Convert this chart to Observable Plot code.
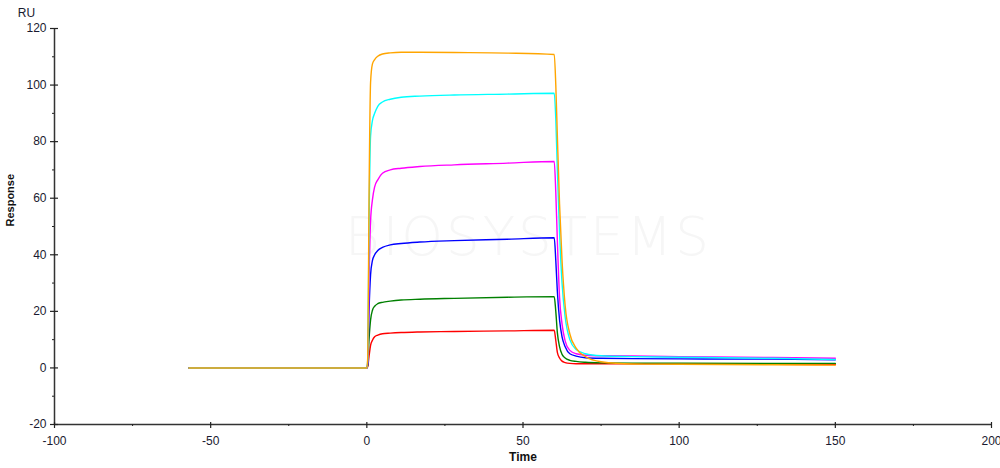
<!DOCTYPE html>
<html><head><meta charset="utf-8">
<script src="https://cdn.jsdelivr.net/npm/d3@7"></script>
<script src="https://cdn.jsdelivr.net/npm/@observablehq/plot@0.6"></script>
<style>
body{margin:0;background:#fff;font-family:"Liberation Sans",Arial,sans-serif;}
#wrap{position:relative;width:1000px;height:468px;overflow:hidden;}
#wm{position:absolute;left:345px;top:206px;font-size:53px;color:#f6f6f6;letter-spacing:3px;font-family:"DejaVu Sans",sans-serif;font-weight:200;}
#chart{position:absolute;left:0;top:0;}
svg{display:block;background:transparent!important;}
</style>
</head><body>
<div id="wrap"><div id="wm">BIOSYSTEMS</div><div id="chart"></div></div>
<script>
// Time (s)
const time = [-57, -30, 0, 0.3, 0.7, 1.2, 1.8, 2.5, 3.5, 5, 7.5, 11, 17, 28, 45, 60, 60.5, 61, 61.7, 62.5, 63.5, 65, 67, 70, 75, 85, 100, 130, 150];
// Responses (RU), one array per concentration
const redRU     = [0, 0, 0, 0.5, 4, 8, 9.8, 11, 11.6, 12.1, 12.3, 12.5, 12.7, 12.9, 13.1, 13.3, 9.7, 5.5, 3.5, 2.4, 1.9, 1.6, 1.5, 1.5, 1.5, 1.5, 1.4, 1.3, 1.2];
const greenRU   = [0, 0, 0, 1, 10, 17, 20.4, 21.8, 22.7, 23.2, 23.6, 24, 24.3, 24.6, 25, 25.2, 20, 12.5, 7.5, 4.8, 3.5, 2.7, 2.3, 2.0, 1.8, 1.7, 1.7, 1.6, 1.6];
const blueRU    = [0, 0, 0, 1.5, 20, 33, 38, 40, 41.5, 42.6, 43.5, 44, 44.5, 45, 45.5, 46, 38, 27, 17, 11, 7.5, 5, 4.2, 3.6, 3.4, 3.3, 3.2, 3.1, 2.9];
const magentaRU = [0, 0, 0, 2, 30, 52, 59.5, 64, 66.5, 68.8, 70, 70.6, 71.2, 71.8, 72.4, 73, 62, 45, 25, 15.5, 9.5, 6.2, 5, 4.5, 4.3, 4.2, 4.0, 3.7, 3.4];
const cyanRU    = [0, 0, 0, 3, 50, 82, 87.5, 90, 92.5, 94, 95, 95.7, 96.1, 96.5, 96.8, 97.1, 88, 70, 48, 30, 18, 10, 6.5, 5, 4.3, 4.0, 3.8, 3.4, 3.0];
const orangeRU  = [0, 0, 0, 4, 60, 101, 107.5, 109, 110.2, 111, 111.4, 111.6, 111.6, 111.5, 111.3, 110.8, 100, 82, 58, 38, 22, 12, 7, 4, 2.2, 1.4, 1.3, 1.1, 1.0];

const seriesNames  = ["red", "green", "blue", "magenta", "cyan", "orange"];
const seriesValues = [redRU, greenRU, blueRU, magentaRU, cyanRU, orangeRU];
const seriesColors = ["#ff2020", "#1e7d1e", "#1a1aff", "#ff20ff", "#20d4d4", "#e8a317"];

const xDomain = [-100, 200];
const yDomain = [-20, 120];
const xTicks = [-100, -50, 0, 50, 100, 150, 200];
const xMinor = [-75, -25, 25, 75, 125, 175];
const yTicks = [-20, 0, 20, 40, 60, 80, 100, 120];
const yMinor = [-10, 10, 30, 50, 70, 90, 110];

const rows = [];
seriesNames.forEach((s, k) => time.forEach((t, i) => rows.push({series: s, t, v: seriesValues[k][i]})));

const ink = "#1a1a30";
const fmt = d => String(d);
const chart = Plot.plot({
  width: 1000, height: 468,
  marginLeft: 54, marginRight: 9, marginTop: 28, marginBottom: 44,
  style: {background: "transparent", fontFamily: "Liberation Sans, Arial, sans-serif"},
  x: {domain: xDomain},
  y: {domain: yDomain},
  color: {domain: seriesNames, range: seriesColors},
  marks: [
    Plot.line(rows, {x: "t", y: "v", z: "series", stroke: "series", strokeWidth: 1.4, curve: "monotone-x"}),
    // axis lines
    Plot.ruleX([xDomain[0]], {stroke: "#333", strokeWidth: 1.5}),
    Plot.ruleY([yDomain[0]], {stroke: "#333", strokeWidth: 1.5}),
    // y ticks crossing the axis
    Plot.ruleY(yTicks, {x1: xDomain[0], x2: xDomain[0], insetLeft: -4, insetRight: -4, stroke: "#222", strokeWidth: 1.2}),
    Plot.ruleY(yMinor, {x1: xDomain[0], x2: xDomain[0], insetLeft: -2, insetRight: 0, stroke: "#222"}),
    // x ticks
    Plot.ruleX(xTicks, {y1: yDomain[0], y2: yDomain[0], insetTop: -2, insetBottom: -4, stroke: "#222", strokeWidth: 1.2}),
    Plot.ruleX(xMinor, {y1: yDomain[0], y2: yDomain[0], insetTop: 0, insetBottom: -2, stroke: "#222"}),
    Plot.axisY({ticks: yTicks, tickSize: 0, tickPadding: 8, fontSize: 12, color: ink, label: null, tickFormat: fmt}),
    Plot.axisX({ticks: xTicks, tickSize: 0, tickPadding: 12, fontSize: 12, color: ink, label: null, tickFormat: fmt}),
    Plot.text(["Time"], {frameAnchor: "bottom", dy: 36, fontSize: 12, fontWeight: "bold", fill: "#111", text: d => d, letterSpacing: "1px"}),
    Plot.text(["Response"], {frameAnchor: "left", dx: -44, rotate: -90, fontSize: 11, fontWeight: "bold", fill: "#111", text: d => d}),
    Plot.text(["RU"], {frameAnchor: "top-left", dx: -28, dy: -20, fontSize: 12, fill: ink, text: d => d, textAnchor: "middle"})
  ]
});
document.getElementById("chart").append(chart);
</script>
</body></html>
